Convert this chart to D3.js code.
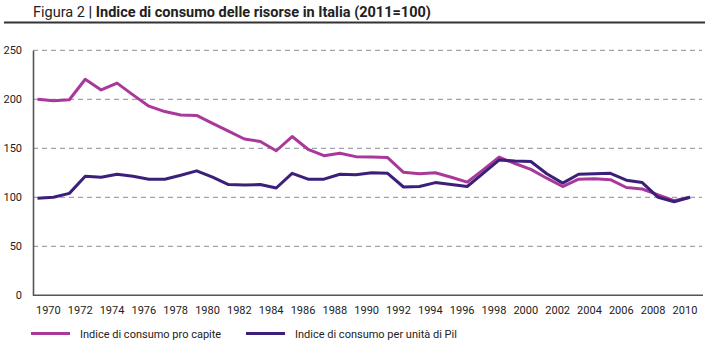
<!DOCTYPE html>
<html>
<head>
<meta charset="utf-8">
<script src="https://cdn.jsdelivr.net/npm/d3@7"></script>
<style>
  body { margin: 0; background: #fff; }
  svg { display: block; font-family: Roboto, "Noto Sans", sans-serif; }
</style>
</head>
<body>
<svg id="chart" width="709" height="345"></svg>
<script>
var years = d3.range(1970, 2012);

// indice di consumo pro capite (2011=100)
var proCapite = [
    200, 198.5, 199.5, 220.5, 209.5, 216.5, 204.5, 193, 187.5, 184,
    183.5, 175.5, 167.5, 159.5, 157, 147.5, 162, 149, 142.5, 145,
    141.5, 141, 140.5, 125.5, 124, 125, 120.5, 115.5, 128, 141,
    134.5, 128.5, 119.5, 111, 118.5, 119, 118, 110, 108.5, 102.5,
    96.5, 100
];

// indice di consumo per unità di Pil (2011=100)
var perPil = [
    99, 100, 104, 121.5, 120.5, 123.5, 121.5, 118.5, 118.5, 122.5,
    127, 120.5, 113, 112.5, 113, 109.5, 124.5, 118.5, 118.5, 123.5,
    123, 125, 124.5, 110.5, 111, 115, 113, 111, 124.5, 138,
    137, 136.5, 124, 114.5, 123.5, 124, 124.5, 117.5, 115, 100,
    95.5, 100
];

var yTicks = [0, 50, 100, 150, 200, 250];
var xTicks = d3.range(1970, 2011, 2);

var series = [
    { name: "Indice di consumo pro capite", values: proCapite, color: "#a8399a" },
    { name: "Indice di consumo per unità di Pil", values: perPil, color: "#3c1f7a" }
];

var svg = d3.select("#chart");

var x = d3.scaleLinear().domain([1970, 2011]).range([37.5, 690]);
var y = d3.scaleLinear().domain([0, 250]).range([295.3, 50.3]);

// titolo
var title = svg.append("text")
    .attr("x", 33)
    .attr("y", 17)
    .attr("font-size", 14.5)
    .attr("fill", "#222");
title.append("tspan").text("Figura 2 ");
title.append("tspan").attr("font-weight", "bold").text("| Indice di consumo delle risorse in Italia (2011=100)");

svg.append("line")
    .attr("x1", 4).attr("x2", 705)
    .attr("y1", 22.5).attr("y2", 22.5)
    .attr("stroke", "#333")
    .attr("stroke-width", 2.2);

// griglia tratteggiata
svg.append("g")
    .selectAll("line")
    .data(yTicks.filter(function (d) { return d > 0; }))
    .enter()
    .append("line")
    .attr("x1", 33).attr("x2", 702)
    .attr("y1", function (d) { return y(d); })
    .attr("y2", function (d) { return y(d); })
    .attr("stroke", "#8c8c9c")
    .attr("stroke-width", 1)
    .attr("stroke-dasharray", "5,4");

// asse y
var yAxis = svg.append("g")
    .attr("transform", "translate(33,0)")
    .call(d3.axisLeft(y).tickValues(yTicks).tickSize(0).tickPadding(11));
yAxis.select(".domain").attr("stroke", "#555").attr("stroke-width", 1.6);
yAxis.selectAll("text").attr("font-size", 11).attr("fill", "#222")
    .attr("font-family", "Roboto, sans-serif");

// asse x
var xAxis = svg.append("g")
    .attr("transform", "translate(0,295.3)")
    .call(d3.axisBottom(x).tickValues(xTicks).tickFormat(d3.format("d")).tickSize(0).tickPadding(0));
xAxis.select(".domain").remove();
xAxis.selectAll("text")
    .attr("text-anchor", "start")
    .attr("dx", -2)
    .attr("y", 18.5)
    .attr("dy", 0)
    .attr("font-size", 11)
    .attr("fill", "#222")
    .attr("font-family", "Roboto, sans-serif");

svg.append("line")
    .attr("x1", 33).attr("x2", 703)
    .attr("y1", 295.3).attr("y2", 295.3)
    .attr("stroke", "#555")
    .attr("stroke-width", 1.6);

// linee
var line = d3.line()
    .x(function (d, i) { return x(years[i]); })
    .y(function (d) { return y(d); });

svg.append("g")
    .selectAll("path")
    .data(series)
    .enter()
    .append("path")
    .attr("d", function (d) { return line(d.values); })
    .attr("fill", "none")
    .attr("stroke", function (d) { return d.color; })
    .attr("stroke-width", 3)
    .attr("stroke-linejoin", "round");

// legenda
var legendX = [31, 246];
var legend = svg.append("g")
    .selectAll("g")
    .data(series)
    .enter()
    .append("g")
    .attr("transform", function (d, i) { return "translate(" + legendX[i] + ",333.5)"; });

legend.append("line")
    .attr("x1", 0).attr("x2", 39)
    .attr("stroke", function (d) { return d.color; })
    .attr("stroke-width", 3);

legend.append("text")
    .attr("x", 49)
    .attr("y", 4)
    .attr("font-size", 11)
    .attr("fill", "#222")
    .text(function (d) { return d.name; });
</script>
</body>
</html>
